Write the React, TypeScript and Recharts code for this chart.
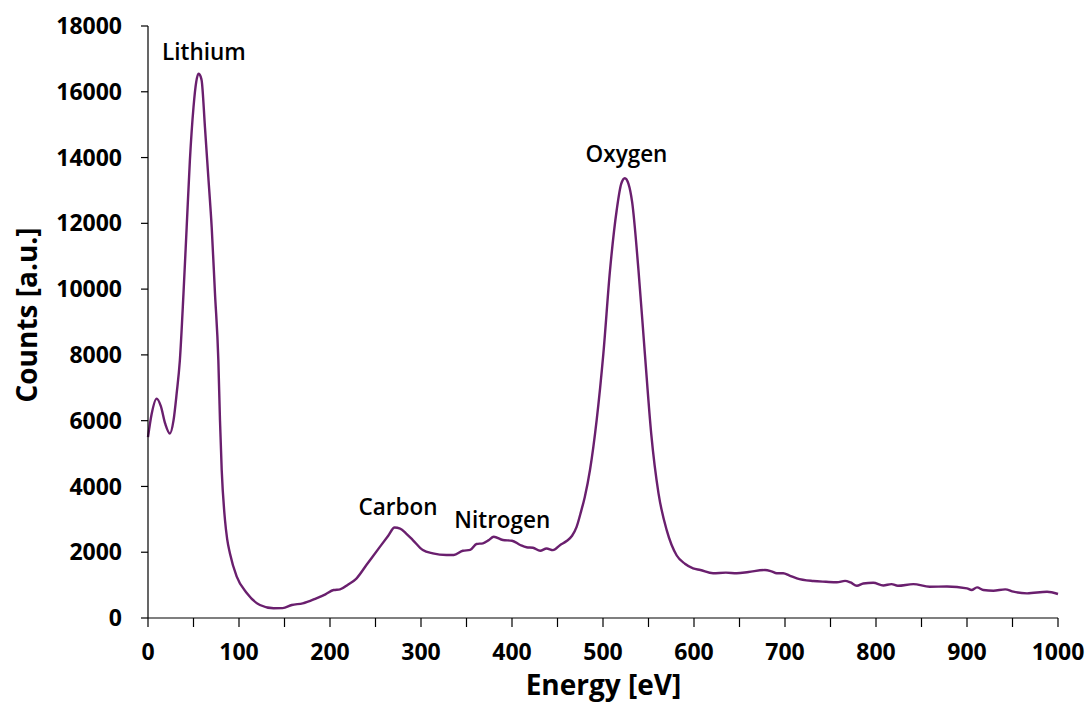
import { LineChart, Line, XAxis, YAxis, ReferenceDot } from "recharts";

// spectrum (energy in eV, counts in a.u.)
const energy = [
  0, 4, 9.5, 14, 19, 24, 28, 31.5, 35, 39, 42.5, 46, 50, 53, 55.5, 58, 59, 62.6, 66.3, 70,
  73.6, 77.3, 79.1, 81, 84.6, 87, 90, 97.5, 108.5, 123, 138, 148, 158, 170, 185, 195, 204, 211, 220, 229,
  240, 255, 264, 271, 277, 284, 291, 302, 313, 328, 336, 346, 354, 361, 368, 374, 380, 390, 400, 409,
  416, 423, 431, 438, 445, 453, 460, 466, 471, 476, 480, 485.7, 493, 500.4, 507.7, 515, 520, 524, 528, 532,
  539, 546, 553, 561, 570, 581, 590, 599, 607, 621, 635, 647, 660, 678, 685, 691, 698, 705, 713, 731,
  745, 757, 766, 772, 779, 786, 797, 808, 817, 824, 841, 859, 878, 900, 905, 911, 918, 929, 942, 951,
  966, 988, 1000,
];
const counts = [
  5500, 6200, 6670, 6450, 5900, 5610, 6000, 6830, 7830, 9870, 11880, 13900, 15530, 16300, 16550, 16450, 16340, 14920, 13400, 11880,
  9870, 7840, 6010, 4500, 2980, 2400, 1970, 1260, 760, 395, 295, 300, 395, 445, 600, 720, 850, 870, 1020, 1200,
  1610, 2170, 2500, 2750, 2720, 2560, 2370, 2065, 1965, 1915, 1915, 2045, 2070, 2250, 2270, 2360, 2470, 2370, 2350, 2220,
  2150, 2135, 2045, 2115, 2065, 2220, 2340, 2500, 2770, 3250, 3680, 4500, 6010, 8040, 10570, 12390, 13200, 13370, 13200, 12650,
  10570, 8040, 5600, 3790, 2670, 1900, 1650, 1510, 1460, 1360, 1380, 1360, 1400, 1460, 1420, 1360, 1360, 1290, 1205, 1124,
  1100, 1085, 1130, 1080, 980, 1050, 1070, 990, 1030, 980, 1030, 950, 960, 900, 850, 930, 850, 830, 870, 800,
  750, 800, 730,
];

const xTicks = [
  0, 50, 100, 150, 200, 250, 300, 350, 400, 450, 500, 550, 600, 650, 700, 750, 800, 850, 900, 950, 1000,
];
const yTicks = [0, 2000, 4000, 6000, 8000, 10000, 12000, 14000, 16000, 18000];

const peakNames = ["Lithium", "Carbon", "Nitrogen", "Oxygen"];
const peakX = [61.5, 274.7, 389.4, 525.8];
const peakY = [17194, 3375, 2980, 14108];

const data = energy.map((e, i) => ({ energy: e, counts: counts[i] }));

const FONT = "'Open Sans', sans-serif";
const tickStyle = { fontSize: 23, fontWeight: 700, fill: "#000", fontFamily: FONT };

export default function App() {
  return (
    <div style={{ position: "absolute", left: 0, top: 0, background: "#fff" }}>
      <LineChart
        width={1090}
        height={702}
        data={data}
        margin={{ top: 26, right: 32, bottom: 0, left: 0 }}
      >
        <XAxis
          dataKey="energy"
          type="number"
          domain={[0, 1000]}
          ticks={xTicks}
          interval={0}
          tickFormatter={(v) => (v % 100 === 0 ? String(v) : "")}
          height={84}
          tickSize={9}
          tickMargin={17}
          axisLine={{ stroke: "#000", strokeWidth: 1.2 }}
          tickLine={{ stroke: "#000", strokeWidth: 1.2 }}
          tick={tickStyle}
        />
        <YAxis
          type="number"
          domain={[0, 18000]}
          ticks={yTicks}
          interval={0}
          width={148}
          tickSize={7}
          tickMargin={19}
          axisLine={{ stroke: "#000", strokeWidth: 1.2 }}
          tickLine={{ stroke: "#000", strokeWidth: 1.2 }}
          tick={tickStyle}
        />
        <Line
          dataKey="counts"
          type="monotone"
          stroke="#6a1f6e"
          strokeWidth={2.4}
          dot={false}
          activeDot={false}
          isAnimationActive={false}
        />
        {peakNames.map((name, i) => (
          <ReferenceDot
            key={name}
            x={peakX[i]}
            y={peakY[i]}
            r={0}
            fill="none"
            stroke="none"
            ifOverflow="visible"
            label={{
              value: name,
              position: "center",
              fill: "#000",
              fontSize: 22.5,
              fontWeight: 600,
              fontFamily: FONT,
            }}
          />
        ))}
        <text
          x={37}
          y={315}
          transform="rotate(-90 37 315)"
          textAnchor="middle"
          fontFamily={FONT}
          fontSize={28}
          fontWeight={700}
          fill="#000"
        >
          Counts [a.u.]
        </text>
        <text
          x={603.5}
          y={695}
          textAnchor="middle"
          fontFamily={FONT}
          fontSize={28}
          fontWeight={700}
          fill="#000"
        >
          Energy [eV]
        </text>
      </LineChart>
    </div>
  );
}
